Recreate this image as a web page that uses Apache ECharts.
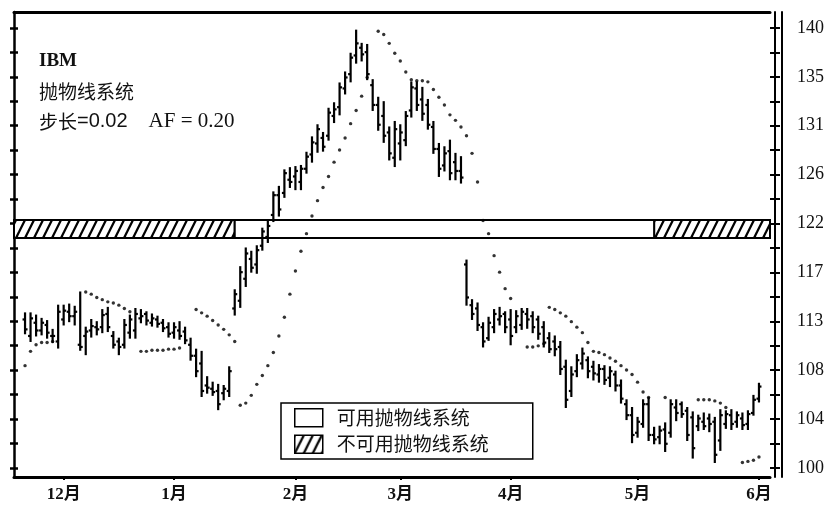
<!DOCTYPE html>
<html><head><meta charset="utf-8">
<script src="https://cdn.jsdelivr.net/npm/echarts@6/dist/echarts.min.js"></script>
<style>html,body{margin:0;padding:0;background:#fff}#c{width:833px;height:512px}</style>
</head><body><div id="c"></div>
<script>
// ---------- data ----------
const monthLabels = ['12月','1月','2月','3月','4月','5月','6月'];
const monthIdx = [9, 29, 51, 70, 90, 113, 135];
const dayCount = 138;
const firstBar = 2;

const opens = [
113.5,112.0,113.2,112.5,113.0,112.0,111.5,113.5,114.2,113.8,
111.2,112.0,112.5,112.8,112.8,114.0,112.0,111.5,111.2,112.3,
112.5,113.6,114.0,113.2,113.5,113.2,112.8,112.3,112.5,112.4,
111.2,110.2,109.5,107.5,107.2,107.0,106.8,107.0,114.5,115.2,
117.2,119.0,118.5,120.2,121.0,123.0,124.8,125.0,126.2,126.5,
126.0,127.2,128.5,129.5,130.0,130.2,132.0,132.8,134.5,135.8,
137.5,138.2,137.8,134.8,133.0,132.0,130.5,128.2,129.5,129.8,
132.5,134.5,133.5,133.0,131.0,129.0,127.5,128.8,127.8,127.0,
118.5,114.8,114.5,112.8,111.8,112.8,113.5,114.0,113.5,112.8,
113.0,114.0,113.8,113.5,112.8,111.8,111.5,111.0,109.2,107.0,
108.8,109.5,109.8,109.2,108.5,109.0,108.2,108.5,107.5,105.8,
104.8,103.2,104.0,105.8,103.0,102.8,103.5,103.2,105.5,105.8,
105.2,104.6,103.8,104.2,104.5,104.2,102.5,104.0,104.8,104.2,
104.5,104.0,105.0,106.3];
const highs = [
114.1,114.1,113.9,113.6,113.4,112.6,114.8,114.8,114.9,114.7,
116.0,112.8,113.5,113.3,114.4,114.6,112.4,111.8,113.5,113.9,
114.5,114.4,114.2,114.0,113.8,113.5,113.2,113.2,113.3,112.8,
111.8,110.8,110.6,108.3,107.8,107.6,107.5,109.2,116.2,118.3,
120.0,119.7,120.2,121.8,122.5,125.1,125.6,127.1,127.3,127.4,
127.5,128.7,130.1,131.2,130.5,132.7,133.2,135.0,136.0,137.7,
139.8,138.6,138.5,135.3,133.7,133.3,131.0,131.5,131.2,132.4,
135.1,135.1,134.6,133.5,131.5,129.5,129.2,129.8,128.6,128.3,
118.9,115.3,115.0,113.2,113.7,114.4,114.6,114.2,114.4,114.3,
114.5,114.5,114.2,113.8,113.3,112.3,112.0,111.5,109.8,109.2,
110.3,110.9,110.1,109.7,109.4,109.3,109.2,108.8,108.0,106.2,
105.5,104.6,106.2,106.4,103.7,103.8,104.1,106.2,106.2,106.0,
105.5,105.1,104.8,105.0,104.9,104.6,105.3,105.2,105.3,105.1,
105.0,105.2,106.6,107.7];
const lows = [
112.2,111.5,112.0,112.1,111.8,111.4,110.9,113.0,113.3,113.0,
110.7,110.3,111.9,112.1,112.3,112.4,110.9,110.3,110.9,111.8,
111.8,113.2,113.0,112.9,112.8,112.4,111.9,111.8,111.7,111.3,
109.8,108.3,106.5,106.8,106.6,105.3,106.2,106.5,113.9,114.6,
116.5,117.8,117.7,119.8,120.5,122.4,122.9,124.6,125.5,125.3,
125.3,126.8,127.8,128.7,128.8,129.8,131.4,132.1,134.0,135.1,
136.8,137.0,135.3,132.5,130.7,129.6,128.0,127.4,128.0,129.3,
131.9,132.5,131.6,130.8,128.6,126.5,127.0,126.2,126.2,125.9,
114.8,113.5,112.5,111.0,111.6,112.3,113.0,112.3,111.2,112.3,
112.6,112.7,112.3,111.7,111.0,110.5,110.2,108.5,105.5,106.5,
108.3,109.0,108.2,108.0,107.8,107.6,107.4,107.0,105.9,104.4,
102.3,102.8,103.7,102.5,102.2,102.2,101.5,102.8,104.3,104.6,
102.5,100.9,103.4,103.5,103.3,100.5,101.6,103.6,103.5,103.7,
103.5,103.5,104.8,106.0];
const closes = [
112.6,113.6,112.5,113.2,112.3,112.0,114.2,114.3,113.8,114.2,
111.0,112.4,112.9,112.6,113.9,112.8,111.2,111.0,113.0,113.5,
114.0,113.8,113.4,113.6,113.1,112.7,112.2,112.8,112.0,111.6,
110.2,108.8,107.0,107.3,106.9,105.8,107.2,108.8,115.8,117.8,
119.5,118.2,119.8,121.5,122.0,124.8,123.5,126.8,126.0,127.0,
127.2,128.3,129.6,130.8,129.2,132.3,132.6,134.6,135.5,137.3,
138.6,137.6,135.8,133.0,131.2,130.2,128.6,130.8,130.5,132.0,
134.6,133.0,132.2,131.2,129.0,127.2,128.6,126.8,127.0,126.4,
115.5,114.0,113.0,111.5,113.2,114.0,113.8,112.8,112.0,113.8,
114.2,113.5,112.8,112.2,111.4,110.8,110.8,109.0,106.2,108.5,
109.8,110.4,108.8,108.6,109.0,108.0,108.8,107.5,106.3,104.8,
103.0,104.2,105.8,103.0,102.6,103.4,102.2,105.8,105.0,104.9,
103.0,101.8,104.5,103.8,104.0,101.2,104.8,104.9,104.0,104.8,
103.9,104.9,106.2,107.4];
const sar = [
109.3,110.6,111.2,111.4,111.4,111.5,null,null,null,null,
null,116.0,115.8,115.5,115.3,115.1,115.0,114.8,114.5,114.2,
null,110.6,110.6,110.7,110.7,110.7,110.8,110.8,110.9,null,
null,114.4,114.1,113.8,113.4,113.0,112.6,112.1,111.5,105.7,
105.9,106.6,107.6,108.4,109.3,110.5,112.0,113.7,115.8,117.9,
119.7,121.3,122.9,124.3,125.5,126.5,127.8,128.9,130.0,131.3,
132.5,133.8,135.5,null,139.7,139.4,138.6,137.7,137.0,136.0,
135.3,135.2,135.2,135.1,134.4,133.7,133.0,132.1,131.6,131.0,
130.2,128.6,126.0,122.5,121.3,119.3,117.8,116.3,115.4,null,
null,111.0,111.0,111.1,111.3,114.6,114.4,114.1,113.8,113.3,
112.8,112.3,111.4,110.6,110.5,110.3,110.0,109.7,109.3,108.9,
108.5,107.8,106.9,106.4,null,null,106.4,null,null,null,
null,null,106.2,106.2,106.2,106.1,105.9,105.5,null,null,
100.5,100.6,100.7,101.0];

const priceTickLabels = ['100','104','108','113','117','122','126','131','135','140'];
const priceLow = 100, priceHigh = 140;
const yMin = 99.18, yMax = 141.45;
const bandLow = 120.9, bandHigh = 122.55;
const usableSegs = [[40, 116]];
const unusableSegs = [[0, 40], [116, 137]];
const legendNames = ['可用抛物线系统', '不可用抛物线系统'];

// ---------- helpers ----------
const days = Array.from({length: dayCount}, (_, i) => String(i));
const step = (priceHigh - priceLow) / (priceTickLabels.length - 1);
const majorTicks = priceTickLabels.map((_, k) => priceLow + k * step);
const halfTicks = [];
for (let k = 0; k < priceTickLabels.length * 2 - 1; k++) halfTicks.push(priceLow + k * step / 2);
function priceLabel(v) {
  for (let k = 0; k < majorTicks.length; k++) if (Math.abs(v - majorTicks[k]) < 1e-6) return priceTickLabels[k];
  return '';
}
function hatchCanvas() {
  const c = document.createElement('canvas'); c.width = 9; c.height = 18;
  const g = c.getContext('2d');
  g.fillStyle = '#fff'; g.fillRect(0, 0, 9, 18);
  g.strokeStyle = '#000'; g.lineWidth = 2.2;
  for (const dx of [-9, 0, 9]) { g.beginPath(); g.moveTo(dx - 1, 20); g.lineTo(dx + 10, -2); g.stroke(); }
  return c;
}
const hatch = { image: hatchCanvas(), repeat: 'repeat' };

const ohlcData = highs.map((h, k) => [firstBar + k, opens[k], h, lows[k], closes[k]]);
const sarData = [];
sar.forEach((v, k) => { if (v !== null) sarData.push([firstBar + k, v]); });
const bandUsable = usableSegs.map(s => [s[0], s[1], bandLow, bandHigh]);
const bandUnusable = unusableSegs.map(s => [s[0], s[1], bandLow, bandHigh]);

function bandRender(fill) {
  return function (params, api) {
    const p1 = api.coord([api.value(0), api.value(3)]);
    const p2 = api.coord([api.value(1), api.value(2)]);
    return { type: 'rect', shape: { x: p1[0], y: p1[1], width: p2[0] - p1[0], height: p2[1] - p1[1] },
      style: { fill: fill, stroke: '#000', lineWidth: 2 } };
  };
}

const serif = 'Liberation Serif';
const cjk = 'Noto Sans CJK SC';
const black = '#111';

const chart = echarts.init(document.getElementById('c'));
chart.setOption({
  animation: false,
  backgroundColor: '#fff',
  grid: { left: 14, right: 63, top: 12, bottom: 35, containLabel: false },
  title: [
    { text: 'IBM', left: 39, top: 52, padding: 0,
      textStyle: { fontFamily: serif, fontWeight: 'bold', fontSize: 19, color: black } },
    { text: '抛物线系统', left: 39, top: 82, padding: 0,
      textStyle: { fontFamily: cjk, fontWeight: 'normal', fontSize: 19, color: black } },
    { text: '{a|步长}{b|=0.02}{c|    AF = 0.20}', left: 39, top: 111, padding: 0,
      textStyle: { fontWeight: 'normal', rich: {
        a: { fontFamily: cjk, fontWeight: 'normal', fontSize: 19, color: black },
        b: { fontFamily: 'Liberation Sans', fontWeight: 'normal', fontSize: 20, color: black },
        c: { fontFamily: serif, fontWeight: 'normal', fontSize: 21, color: black }
      } } }
  ],
  legend: {
    orient: 'vertical', left: 281, top: 403, icon: 'rect',
    itemWidth: 28, itemHeight: 18, itemGap: 7,
    padding: [5, 44, 5, 13],
    backgroundColor: '#fff', borderColor: '#000', borderWidth: 1.5,
    textStyle: { fontFamily: cjk, fontSize: 19, color: black, padding: [0, 0, 0, 9] },
    selectedMode: false,
    data: [
      { name: legendNames[0], itemStyle: { color: '#fff', borderColor: '#000', borderWidth: 1.5 } },
      { name: legendNames[1], itemStyle: { color: hatch, borderColor: '#000', borderWidth: 1.5 } }
    ]
  },
  xAxis: [
    { type: 'category', data: days, boundaryGap: false, position: 'bottom',
      axisLine: { lineStyle: { color: '#000', width: 3 } },
      axisTick: { interval: (i) => monthIdx.includes(i), length: 3, lineStyle: { color: '#000', width: 2 } },
      axisLabel: { interval: (i) => monthIdx.includes(i), margin: 9,
        formatter: (v, i) => { const m = monthIdx.indexOf(Number(v)); return m >= 0 ? monthLabels[m] : ''; },
        fontFamily: serif + ', ' + cjk, fontWeight: 'bold', fontSize: 17, color: black },
      splitLine: { show: false } },
    { type: 'category', data: days, boundaryGap: false, position: 'top',
      axisLine: { lineStyle: { color: '#000', width: 3 } },
      axisTick: { show: false }, axisLabel: { show: false }, splitLine: { show: false } }
  ],
  yAxis: [
    { type: 'value', position: 'right', offset: 5, min: yMin, max: yMax,
      axisLine: { show: true, lineStyle: { color: '#000', width: 2 } },
      axisTick: { show: true, customValues: halfTicks, length: 5, lineStyle: { color: '#000', width: 2 } },
      axisLabel: { customValues: majorTicks, formatter: priceLabel, margin: 22,
        fontFamily: serif, fontSize: 18, color: black },
      splitLine: { show: false } },
    { type: 'value', position: 'right', offset: 5, min: yMin, max: yMax,
      axisLine: { show: false },
      axisTick: { show: true, inside: true, customValues: halfTicks, length: 5, lineStyle: { color: '#000', width: 2 } },
      axisLabel: { show: false }, splitLine: { show: false } },
    { type: 'value', position: 'right', offset: 12, min: yMin, max: yMax,
      axisLine: { show: true, lineStyle: { color: '#000', width: 2 } },
      axisTick: { show: false }, axisLabel: { show: false }, splitLine: { show: false } },
    { type: 'value', position: 'left', offset: 0, min: yMin, max: yMax,
      axisLine: { show: true, lineStyle: { color: '#000', width: 2.5 } },
      axisTick: { show: true, customValues: halfTicks, length: 4, lineStyle: { color: '#000', width: 2.5 } },
      axisLabel: { show: false }, splitLine: { show: false } },
    { type: 'value', position: 'left', offset: 0, min: yMin, max: yMax,
      axisLine: { show: false },
      axisTick: { show: true, inside: true, customValues: halfTicks, length: 4, lineStyle: { color: '#000', width: 2.5 } },
      axisLabel: { show: false }, splitLine: { show: false } }
  ],
  series: [
    { name: legendNames[1], type: 'custom', xAxisIndex: 0, yAxisIndex: 0, z: 1, clip: false,
      itemStyle: { color: hatch, borderColor: '#000', borderWidth: 1.5 },
      encode: { x: [0, 1], y: [2, 3] }, data: bandUnusable, renderItem: bandRender(hatch) },
    { name: legendNames[0], type: 'custom', xAxisIndex: 0, yAxisIndex: 0, z: 1, clip: false,
      itemStyle: { color: '#fff', borderColor: '#000', borderWidth: 1.5 },
      encode: { x: [0, 1], y: [2, 3] }, data: bandUsable, renderItem: bandRender('#fff') },
    { name: 'IBM', type: 'custom', xAxisIndex: 0, yAxisIndex: 0, z: 3,
      encode: { x: 0, y: [1, 2, 3, 4] }, data: ohlcData,
      renderItem: function (params, api) {
        const x = api.value(0);
        const o = api.coord([x, api.value(1)]);
        const h = api.coord([x, api.value(2)]);
        const l = api.coord([x, api.value(3)]);
        const c = api.coord([x, api.value(4)]);
        const st = { stroke: '#000', lineWidth: 2.2 };
        return { type: 'group', children: [
          { type: 'line', shape: { x1: h[0], y1: h[1] - 0.5, x2: l[0], y2: l[1] + 0.5 }, style: st },
          { type: 'line', shape: { x1: o[0] - 2.5, y1: o[1], x2: o[0], y2: o[1] }, style: st },
          { type: 'line', shape: { x1: c[0], y1: c[1], x2: c[0] + 2.5, y2: c[1] }, style: st }
        ] };
      } },
    { name: 'SAR', type: 'scatter', xAxisIndex: 0, yAxisIndex: 0, z: 4,
      symbol: 'circle', symbolSize: 3.4, itemStyle: { color: '#000' }, data: sarData }
  ]
});
</script>
</body></html>
